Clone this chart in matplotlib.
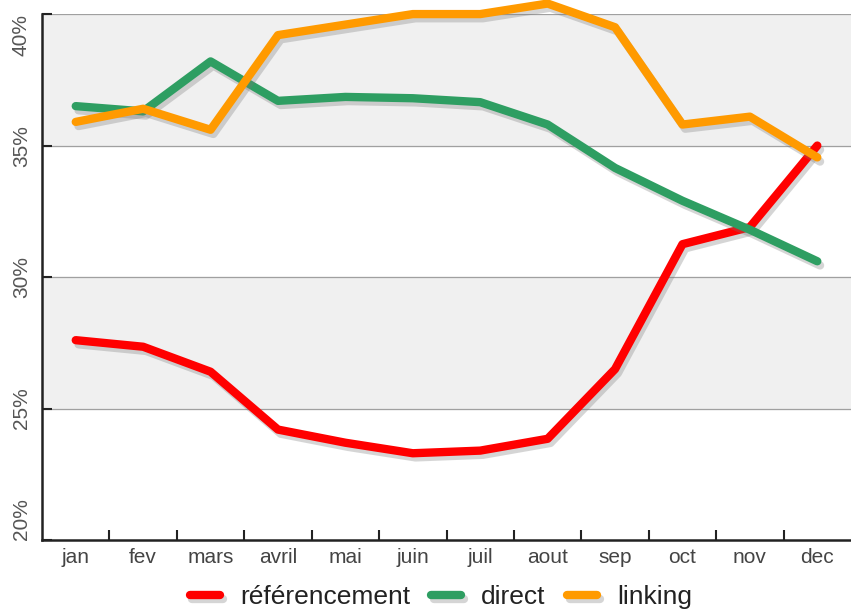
import matplotlib.pyplot as plt
import matplotlib.patheffects as pe
from matplotlib.ticker import FixedLocator

plt.rcParams["font.family"] = ["Liberation Sans", "DejaVu Sans"]

mois = ["jan", "fev", "mars", "avril", "mai", "juin", "juil", "aout", "sep", "oct", "nov", "dec"]
referencement = [27.6, 27.35, 26.4, 24.2, 23.7, 23.3, 23.4, 23.85, 26.5, 31.25, 31.9, 35.0]
direct = [36.5, 36.3, 38.2, 36.7, 36.85, 36.8, 36.65, 35.8, 34.15, 32.9, 31.8, 30.6]
linking = [35.9, 36.4, 35.6, 39.2, 39.6, 40.0, 40.0, 40.4, 39.5, 35.8, 36.1, 34.55]
y_ticks = [20, 25, 30, 35, 40]

fig = plt.figure(figsize=(8.51, 6.12), dpi=100)
ax = fig.add_axes([0.0494, 0.1176, 0.9506, 0.8594])

# bandes grises et lignes horizontales
ax.axhspan(35, 40, color="#f0f0f0", zorder=0)
ax.axhspan(25, 30, color="#f0f0f0", zorder=0)
for y in y_ticks[1:]:
    ax.axhline(y, color="#a0a0a0", lw=0.9, zorder=1)

x = list(range(len(mois)))
shadow = [pe.SimpleLineShadow(offset=(2, -3), shadow_color="#777777", alpha=0.3), pe.Normal()]
series = [
    ("référencement", referencement, "#ff0000"),
    ("direct", direct, "#2e9e62"),
    ("linking", linking, "#ff9a00"),
]
for name, vals, col in series:
    ax.plot(x, vals, color=col, lw=6, label=name, solid_capstyle="round",
            solid_joinstyle="round", clip_on=False, zorder=3, path_effects=shadow)

ax.set_xlim(-0.5, 11.5)
ax.set_ylim(20, 40)

for s in ["top", "right"]:
    ax.spines[s].set_visible(False)
for s in ["left", "bottom"]:
    ax.spines[s].set_linewidth(1.8)
    ax.spines[s].set_color("#222222")

ax.set_xticks(x)
ax.set_xticklabels(mois, fontsize=15, color="#444444")
ax.tick_params(axis="x", which="major", length=0, pad=6)
ax.xaxis.set_minor_locator(FixedLocator([i + 0.5 for i in range(11)]))
ax.tick_params(axis="x", which="minor", direction="in", length=7, width=1.5, color="#222222")

ax.set_yticks(y_ticks)
ax.set_yticklabels([f"{v}%" for v in y_ticks], fontsize=15, color="#555555",
                   rotation=90, va="center")
ax.tick_params(axis="y", direction="in", length=7, width=1.5, color="#222222", pad=8)
labels = ax.get_yticklabels()
labels[0].set_va("bottom")
labels[-1].set_va("top")

# légende en bas, gardée entière dans l'image
leg = fig.legend(loc="center", bbox_to_anchor=(0.518, 0.024), ncol=3, frameon=False,
                 fontsize=19, handlelength=1.15, handletextpad=0.75, columnspacing=0.8)
for t in leg.get_texts():
    t.set_color("#222222")

fig.savefig("out.png", dpi=100)
